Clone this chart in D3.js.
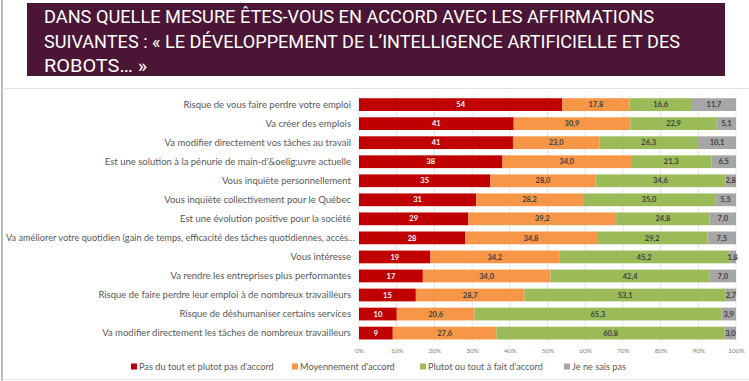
<!DOCTYPE html>
<html><head><meta charset="utf-8">
<script src="https://cdn.jsdelivr.net/npm/d3@7"></script>
<style>body{margin:0;background:#fff;} svg{display:block}</style>
</head><body><svg id="c" width="749" height="381"></svg>
<script>
const titleLines = [
  "DANS QUELLE MESURE ÊTES-VOUS EN ACCORD AVEC LES AFFIRMATIONS",
  "SUIVANTES : « LE DÉVELOPPEMENT DE L’INTELLIGENCE ARTIFICIELLE ET DES",
  "ROBOTS… »"
];
const categories = [
  "Risque de vous faire perdre votre emploi",
  "Va créer des emplois",
  "Va modifier directement vos tâches au travail",
  "Est une solution à la pénurie de main-d’&oelig;uvre actuelle",
  "Vous inquiète personnellement",
  "Vous inquiète collectivement pour le Québec",
  "Est une évolution positive pour la société",
  "Va améliorer votre quotidien (gain de temps, efficacité des tâches quotidiennes, accès…",
  "Vous intéresse",
  "Va rendre les entreprises plus performantes",
  "Risque de faire perdre leur emploi à de nombreux travailleurs",
  "Risque de déshumaniser certains services",
  "Va modifier directement les tâches de nombreux travailleurs"
];
const seriesNames = ["Pas du tout et plutot pas d'accord", "Moyennement d'accord", "Plutot ou tout à fait d'accord", "Je ne sais pas"];
const disagree = [54, 41, 41, 38, 35, 31, 29, 28, 19, 17, 15, 10, 9];
const neutral  = [17.8, 30.9, 23.0, 34.0, 28.0, 28.2, 39.2, 34.8, 34.2, 34.0, 28.7, 20.6, 27.6];
const agree    = [16.6, 22.9, 26.3, 21.3, 34.6, 35.0, 24.8, 29.2, 45.2, 42.4, 53.1, 65.3, 60.8];
const dontKnow = [11.7, 5.1, 10.1, 6.5, 2.8, 5.5, 7.0, 7.5, 1.8, 7.0, 2.7, 3.9, 3.0];
const tickValues = [0, 0.1, 0.2, 0.3, 0.4, 0.5, 0.6, 0.7, 0.8, 0.9, 1];

const colors = ["#C00000", "#F79646", "#9BBB59", "#A6A6A6"];
const keys = ["d", "n", "a", "k"];
const rows = categories.map((c, i) => ({cat: c, d: disagree[i], n: neutral[i], a: agree[i], k: dontKnow[i]}));

const svg = d3.select("#c");

// frame
svg.append("line").attr("x1", 2).attr("x2", 2).attr("y1", 0).attr("y2", 381).attr("stroke", "#a6a6a6").attr("stroke-width", 1.5);
svg.append("line").attr("x1", 2).attr("x2", 749).attr("y1", 88.5).attr("y2", 88.5).attr("stroke", "#e3e3e3");
svg.append("line").attr("x1", 2).attr("x2", 749).attr("y1", 379.5).attr("y2", 379.5).attr("stroke", "#e3e3e3");

// header
svg.append("rect").attr("x", 27).attr("y", 3).attr("width", 698).attr("height", 73).attr("fill", "#4B1636");
const titleWidths = [610, 636, 103];
svg.append("g").selectAll("text").data(titleLines).join("text")
  .attr("x", 44).attr("y", (d, i) => 23 + i * 24.5)
  .attr("fill", "#fff")
  .attr("font-family", "Roboto, 'DejaVu Sans', sans-serif")
  .attr("font-size", 19)
  .attr("textLength", (d, i) => titleWidths[i])
  .attr("lengthAdjust", "spacingAndGlyphs")
  .text(d => d);

// scales
const x = d3.scaleLinear().domain([0, 1]).range([359, 736]);
const y = d3.scaleBand().domain(categories).range([95.1, 342.6]).paddingInner(0.33).paddingOuter(0.165);

// grid
svg.append("g").selectAll("line").data(tickValues).join("line")
  .attr("x1", d => x(d)).attr("x2", d => x(d))
  .attr("y1", 95).attr("y2", 342.5)
  .attr("stroke", "#d9d9d9").attr("stroke-width", 0.75);

// axis tick labels
const xAxis = d3.axisBottom(x).tickValues(tickValues).tickFormat(d3.format(".0%")).tickSize(0).tickPadding(0);
const gx = svg.append("g").attr("transform", "translate(0,348)").call(xAxis);
gx.select(".domain").remove();
gx.selectAll("text").attr("fill", "#7f7f7f").attr("font-size", 6.5).attr("font-family", "Lato, 'Liberation Sans', sans-serif");

// stacks
const stack = d3.stack().keys(keys).offset(d3.stackOffsetExpand);
const series = stack(rows);

const g = svg.append("g");
series.forEach((s, si) => {
  g.append("g").attr("fill", colors[si]).selectAll("rect").data(s).join("rect")
    .attr("x", d => x(d[0])).attr("width", d => x(d[1]) - x(d[0]))
    .attr("y", d => y(d.data.cat)).attr("height", y.bandwidth());
});
const fmt0 = d3.format(".0f");
const fmt1 = v => d3.format(".1f")(v).replace(".", ",");
series.forEach((s, si) => {
  g.append("g").selectAll("text").data(s).join("text")
    .attr("x", d => (x(d[0]) + x(d[1])) / 2)
    .attr("y", d => y(d.data.cat) + y.bandwidth() / 2)
    .attr("dy", "0.35em")
    .attr("text-anchor", "middle")
    .attr("font-family", "Lato, 'Liberation Sans', sans-serif")
    .attr("font-weight", "bold")
    .attr("font-size", 7.5)
    .attr("fill", si === 0 ? "#ffffff" : "#404040")
    .text(d => si === 0 ? fmt0(d.data[keys[si]]) : fmt1(d.data[keys[si]]));
});

// category labels
const labelRight = 351, labelMinLeft = 6;
svg.append("g").selectAll("text").data(categories).join("text")
  .attr("x", labelRight)
  .attr("y", d => y(d) + y.bandwidth() / 2)
  .attr("dy", "0.35em")
  .attr("text-anchor", "end")
  .attr("font-family", "Lato, 'Liberation Sans', sans-serif")
  .attr("font-size", 9.5)
  .attr("fill", "#595959")
  .text(d => d)
  .each(function() {
    const w = this.getComputedTextLength();
    if (w > labelRight - labelMinLeft) {
      d3.select(this).attr("text-anchor", "start").attr("x", labelMinLeft)
        .attr("textLength", 355 - labelMinLeft).attr("lengthAdjust", "spacingAndGlyphs");
    }
  });

// legend
const legendX = [131, 292, 420, 564];
const lg = svg.append("g").selectAll("g").data(seriesNames).join("g")
  .attr("transform", (d, i) => `translate(${legendX[i]},367)`);
lg.append("rect").attr("x", 0).attr("y", -3.5).attr("width", 6).attr("height", 6).attr("fill", (d, i) => colors[i]);
lg.append("text").attr("x", 8).attr("y", 0).attr("dy", "0.35em")
  .attr("font-family", "Lato, 'Liberation Sans', sans-serif")
  .attr("font-size", 9.2).attr("fill", "#595959").text(d => d);
</script>
</body></html>
